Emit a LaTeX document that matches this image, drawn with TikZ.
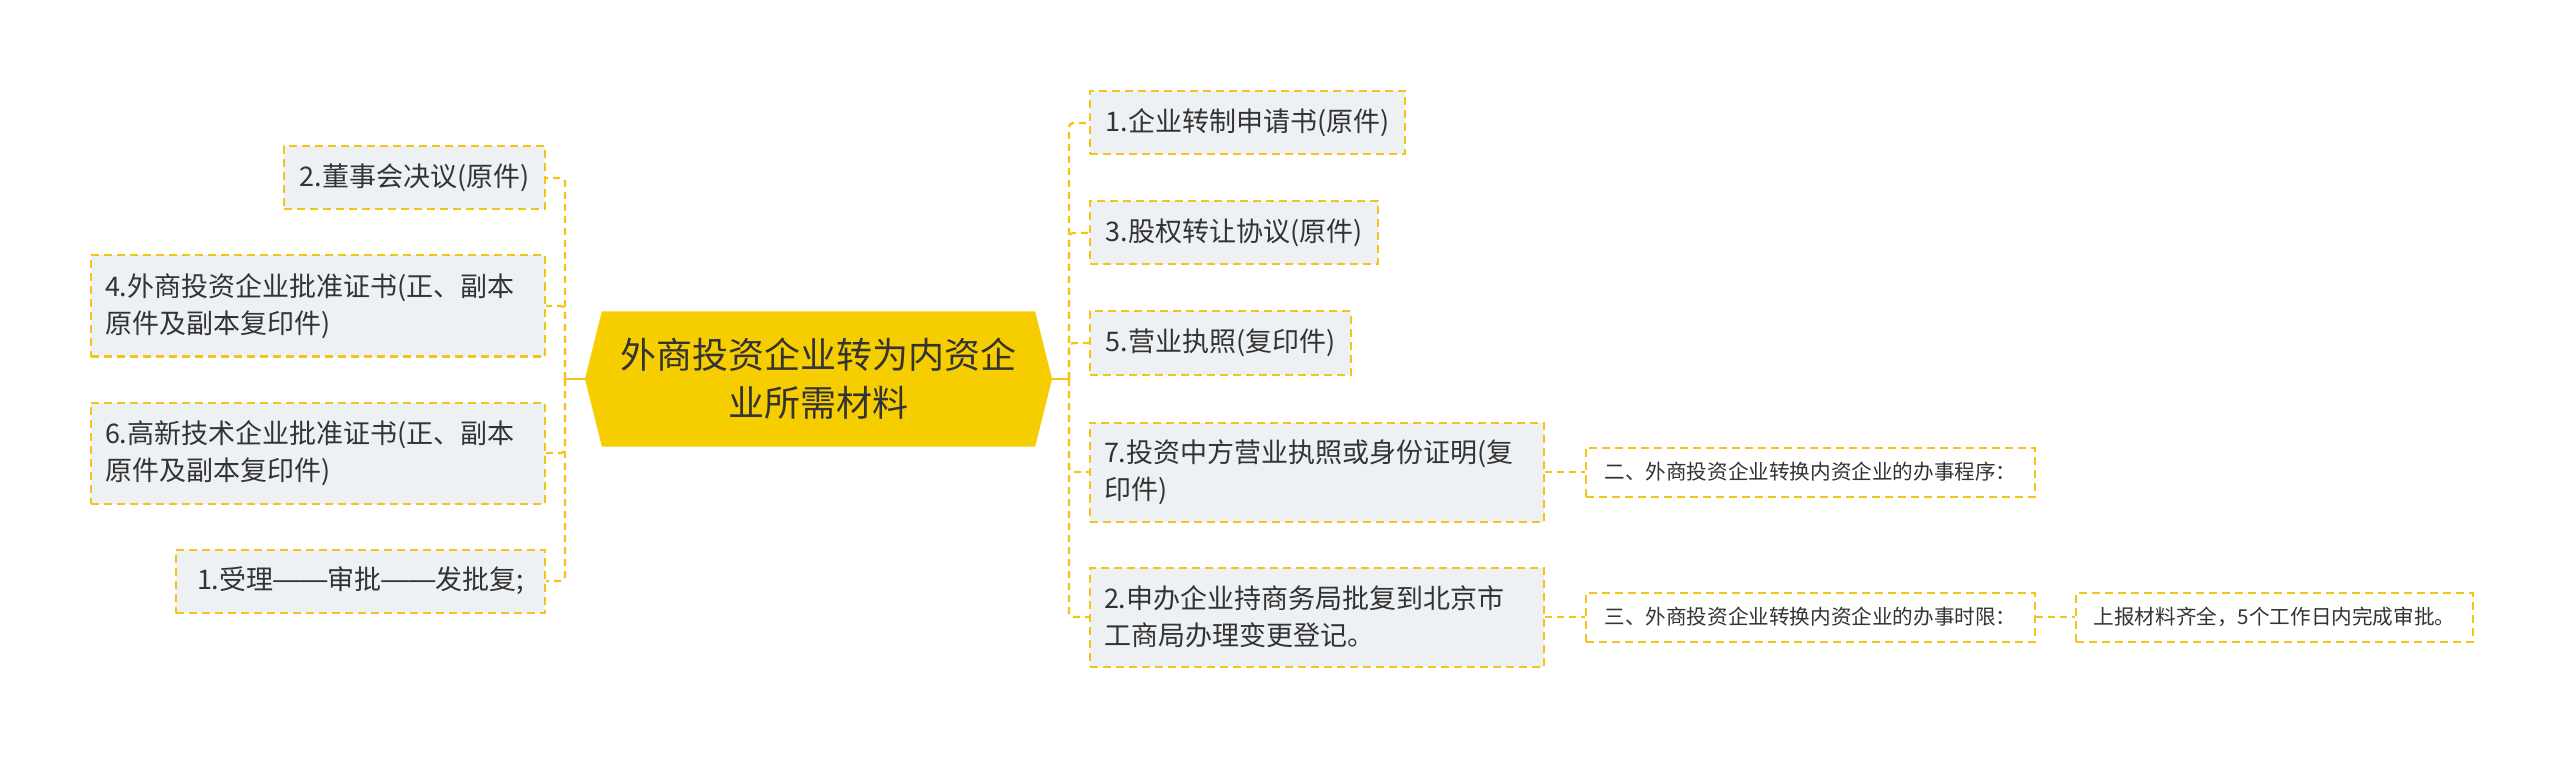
\documentclass[tikz,border=0pt]{standalone}
\usepackage{fontspec}
\setmainfont{Noto Sans CJK SC}
\newfontfamily\dashfont{Liberation Sans}
\usetikzlibrary{positioning,shapes.symbols}

\definecolor{gold}{HTML}{F3C51A}
\definecolor{topicfill}{HTML}{F6CE00}
\definecolor{itemfill}{HTML}{EEF1F4}
\definecolor{ink}{HTML}{333333}

\newcommand{\wdash}{{\dashfont\raisebox{0.06em}{——}}}

\begin{document}
\begin{tikzpicture}[
    x=0.5pt, y=-0.5pt,
    topic/.style={signal,signal to=west and east,signal pointer angle=152,fill=topicfill,text=ink,align=center,
        minimum width=233.5pt,minimum height=67.5pt,inner sep=0pt,font=\fontsize{18pt}{24pt}\selectfont},
    item/.style={rectangle,draw=gold,line width=1pt,dash pattern=on 4pt off 2.5pt,fill=itemfill,text=ink,
        align=left,inner xsep=7pt,inner ysep=0pt,minimum height=31.5pt,font=\fontsize{13.5pt}{18.5pt}\selectfont},
    note/.style={rectangle,draw=gold,line width=1pt,dash pattern=on 4pt off 2.5pt,fill=white,text=ink,
        align=left,inner xsep=6pt,inner ysep=0pt,minimum height=24.5pt,font=\fontsize{10.3pt}{13pt}\selectfont},
    link/.style={draw=gold,line width=1.2pt,dash pattern=on 3.5pt off 2.5pt,rounded corners=2pt},
    stem/.style={draw=gold,line width=1.2pt}
]
\useasboundingbox (0,0) rectangle (2560,759);

% Central topic
\node[topic] (ctr) at (818.5,379) {外商投资企业转为内资企\\业所需材料};
\coordinate (jl) at (565,379);
\coordinate (jr) at (1069,379);

% Left branch nodes
\node[item,anchor=east,minimum width=130.5pt] (l2) at (546,178) {2.董事会决议(原件)};
\node[item,anchor=east,text width=213pt,minimum height=50.5pt] (l4) at (546,306) {4.外商投资企业批准证书(正、副本\\原件及副本复印件)};
\node[item,anchor=east,text width=213pt,minimum height=50.5pt] (l6) at (546,453) {6.高新技术企业批准证书(正、副本\\原件及副本复印件)};
\node[item,anchor=east,minimum width=184.5pt] (l1) at (546,581) {1.受理\wdash 审批\wdash 发批复;};

% Right branch nodes
\node[item,anchor=west,minimum width=157.5pt] (r1) at (1089,123) {1.企业转制申请书(原件)};
\node[item,anchor=west,minimum width=144pt] (r3) at (1089,233) {3.股权转让协议(原件)};
\node[item,anchor=west,minimum width=130.5pt] (r5) at (1089,343) {5.营业执照(复印件)};
\node[item,anchor=west,text width=213pt,minimum height=49.5pt] (r7) at (1089,472) {7.投资中方营业执照或身份证明(复\\印件)};
\node[item,anchor=west,text width=213pt,minimum height=49.5pt] (r2) at (1089,617) {2.申办企业持商务局批复到北京市\\工商局办理变更登记。};

% Second level
\node[note,right=20pt of r7,minimum width=224.5pt] (s2) {二、外商投资企业转换内资企业的办事程序：};
\node[note,right=20pt of r2,minimum width=224.5pt] (s3) {三、外商投资企业转换内资企业的办事时限：};
\node[note,right=19.5pt of s3,minimum width=198.5pt] (t3) {上报材料齐全，5个工作日内完成审批。};

% Connectors
\draw[stem] (ctr.west) -- (jl);
\draw[stem] (ctr.east) -- (jr);
\foreach \n in {l2,l4,l6,l1} {
    \draw[link] (jl) |- (\n.east);
}
\foreach \n in {r1,r3,r5,r7,r2} {
    \draw[link] (jr) |- (\n.west);
}
\draw[link] (r7) -- (s2);
\draw[link] (r2) -- (s3);
\draw[link] (s3) -- (t3);

\end{tikzpicture}
\end{document}
